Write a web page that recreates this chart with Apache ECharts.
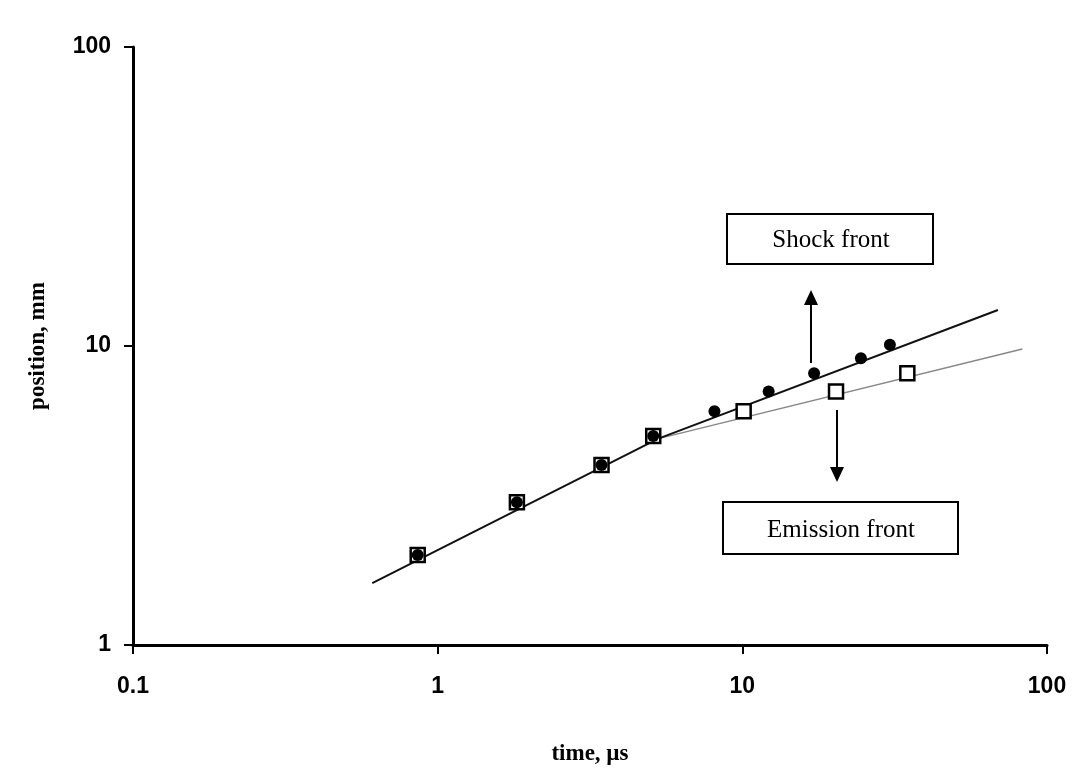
<!DOCTYPE html>
<html>
<head>
<meta charset="utf-8">
<script src="https://cdn.jsdelivr.net/npm/echarts@6/dist/echarts.min.js"></script>
<style>
  html, body { margin: 0; padding: 0; background: #fff; }
  #chart-container { width: 1091px; height: 783px; }
</style>
</head>
<body>
<div id="chart-container"></div>
<script>
// measured points (time in µs, position in mm)
var shockData = [[0.86, 2.0], [1.82, 3.0], [3.45, 4.0], [5.1, 5.0], [8.1, 6.05], [12.2, 7.05], [17.2, 8.1], [24.5, 9.1], [30.5, 10.1]];
var emissionData = [[0.86, 2.0], [1.82, 3.0], [3.45, 4.0], [5.1, 5.0], [10.1, 6.05], [20.3, 7.05], [34.8, 8.1]];
// fitted lines
var shockFit = [[0.61, 1.61], [5.3, 4.9], [69, 13.2]];
var emissionFit = [[5.3, 4.9], [83, 9.77]];
var xTicks = [0.1, 1, 10, 100];
var yTicks = [1, 10, 100];

var dom = document.getElementById('chart-container');
var myChart = echarts.init(dom);
var option;

var tickFont = { fontFamily: 'Liberation Sans, Arial, sans-serif', fontWeight: 'bold', fontSize: 23, color: '#000' };
var nameFont = { fontFamily: 'Liberation Serif, Times New Roman, serif', fontWeight: 'bold', fontSize: 23, color: '#000' };
var boxFont = 'Liberation Serif, Times New Roman, serif';

option = {
  backgroundColor: '#fff',
  animation: false,
  grid: { left: 133, right: 44, top: 47, bottom: 138 },
  xAxis: {
    type: 'log',
    logBase: 10,
    min: xTicks[0],
    max: xTicks[xTicks.length - 1],
    name: 'time, µs',
    nameLocation: 'middle',
    nameGap: 98,
    nameTextStyle: nameFont,
    axisLine: { lineStyle: { color: '#000', width: 3 } },
    axisTick: { show: true, length: 9, lineStyle: { color: '#000', width: 2 } },
    minorTick: { show: false },
    splitLine: { show: false },
    axisLabel: Object.assign({ margin: 30, formatter: function (v) { return String(+v.toPrecision(3)); } }, tickFont)
  },
  yAxis: {
    type: 'log',
    logBase: 10,
    min: yTicks[0],
    max: yTicks[yTicks.length - 1],
    name: 'position, mm',
    nameLocation: 'middle',
    nameGap: 83,
    nameTextStyle: nameFont,
    axisLine: { lineStyle: { color: '#000', width: 3 } },
    axisTick: { show: true, length: 9, lineStyle: { color: '#000', width: 2 } },
    splitLine: { show: false },
    axisLabel: Object.assign({ margin: 22, formatter: function (v) { return String(+v.toPrecision(3)); } }, tickFont)
  },
  series: [
    {
      name: 'Shock fit',
      type: 'line',
      data: shockFit,
      symbol: 'none',
      lineStyle: { color: '#111', width: 2 },
      z: 2
    },
    {
      name: 'Emission fit',
      type: 'line',
      data: emissionFit,
      symbol: 'none',
      lineStyle: { color: '#888', width: 1.5 },
      z: 1
    },
    {
      name: 'Emission front',
      type: 'scatter',
      data: emissionData,
      symbol: 'rect',
      symbolSize: 14,
      itemStyle: { color: '#fff', borderColor: '#000', borderWidth: 2.5, opacity: 1 },
      z: 3
    },
    {
      name: 'Shock front',
      type: 'scatter',
      data: shockData,
      symbol: 'circle',
      symbolSize: 12,
      itemStyle: { color: '#000', opacity: 1 },
      z: 4
    }
  ],
  graphic: [
    {
      type: 'group',
      children: [
        { type: 'rect', shape: { x: 727, y: 214, width: 206, height: 50 }, style: { fill: '#fff', stroke: '#000', lineWidth: 2 } },
        { type: 'text', x: 831, y: 240, style: { text: 'Shock front', fontFamily: boxFont, fontSize: 25, fill: '#000', align: 'center', verticalAlign: 'middle' } },
        { type: 'line', shape: { x1: 811, y1: 363, x2: 811, y2: 300 }, style: { stroke: '#000', lineWidth: 2 } },
        { type: 'polygon', shape: { points: [[811, 290], [804, 305], [818, 305]] }, style: { fill: '#000' } },
        { type: 'rect', shape: { x: 723, y: 502, width: 235, height: 52 }, style: { fill: '#fff', stroke: '#000', lineWidth: 2 } },
        { type: 'text', x: 841, y: 530, style: { text: 'Emission front', fontFamily: boxFont, fontSize: 25, fill: '#000', align: 'center', verticalAlign: 'middle' } },
        { type: 'line', shape: { x1: 837, y1: 410, x2: 837, y2: 472 }, style: { stroke: '#000', lineWidth: 2 } },
        { type: 'polygon', shape: { points: [[837, 482], [830, 467], [844, 467]] }, style: { fill: '#000' } }
      ]
    }
  ]
};

if (option && typeof option === 'object') {
  myChart.setOption(option);
}

window.addEventListener('resize', myChart.resize);
</script>
</body>
</html>
